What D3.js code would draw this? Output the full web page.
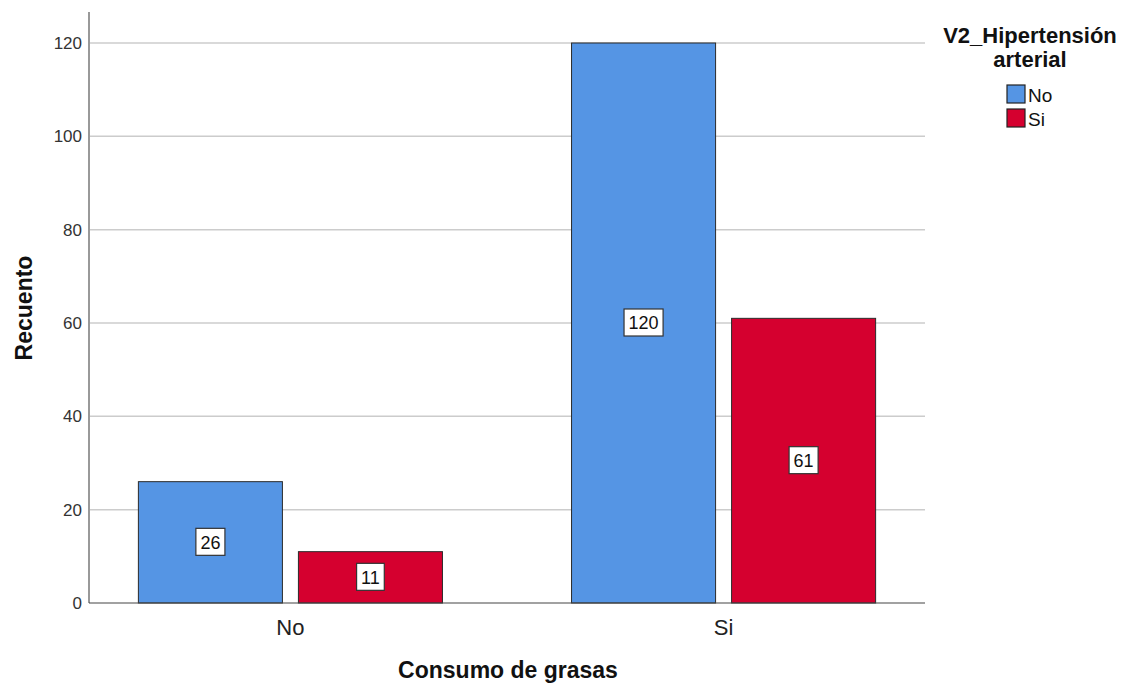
<!DOCTYPE html>
<html lang="es">
<head>
<meta charset="utf-8">
<title>Consumo de grasas</title>
<script src="https://cdn.jsdelivr.net/npm/d3@7/dist/d3.min.js"></script>
<style>
  body { margin: 0; background: #fff; }
  text { font-family: "Liberation Sans", Arial, sans-serif; }
</style>
</head>
<body>
<svg width="1128" height="683" id="mainsvg"></svg>
<script>
  // datos
  const categories = ['No', 'Si'];
  const series = ['No', 'Si'];
  const valuesNo = [26, 120];   // V2_Hipertensión = No
  const valuesSi = [11, 61];    // V2_Hipertensión = Si
  const yTicks = [0, 20, 40, 60, 80, 100, 120];
  const colors = ['#5595e4', '#d5002f'];

  const svg = d3.select('#mainsvg');
  const plotLeft = 89, plotRight = 925, plotTop = 12, plotBottom = 603;
  const fontFam = '"Liberation Sans", Arial, sans-serif';

  const x = d3.scaleBand().domain(categories).range([plotLeft, plotRight])
    .paddingInner(0.298).paddingOuter(0.114);
  const xSub = d3.scaleBand().domain(series).range([0, x.bandwidth()])
    .paddingInner(0.1);
  const y = d3.scaleLinear().domain([0, 120]).range([plotBottom, 43]);

  // rejilla
  svg.append('g')
    .selectAll('line').data(yTicks.slice(1)).join('line')
    .attr('x1', plotLeft).attr('x2', plotRight)
    .attr('y1', d => y(d)).attr('y2', d => y(d))
    .attr('stroke', '#cccccc').attr('stroke-width', 1.5);

  // eje y
  const yAxis = d3.axisLeft(y).tickValues(yTicks).tickSize(0).tickPadding(7);
  const gy = svg.append('g').attr('transform', `translate(${plotLeft},0)`).call(yAxis);
  gy.select('.domain').remove();
  gy.selectAll('text').attr('font-size', 17).attr('fill', '#333')
    .style('font-family', fontFam);
  svg.append('line').attr('x1', plotLeft).attr('x2', plotLeft).attr('y1', plotTop).attr('y2', plotBottom)
    .attr('stroke', '#999').attr('stroke-width', 2);

  // barras
  const rows = [];
  categories.forEach((c, i) => {
    rows.push({ cat: c, ser: 'No', value: valuesNo[i] });
    rows.push({ cat: c, ser: 'Si', value: valuesSi[i] });
  });

  svg.append('g').selectAll('rect').data(rows).join('rect')
    .attr('x', d => x(d.cat) + xSub(d.ser))
    .attr('y', d => y(d.value))
    .attr('width', xSub.bandwidth())
    .attr('height', d => y(0) - y(d.value))
    .attr('fill', d => colors[series.indexOf(d.ser)])
    .attr('stroke', '#2b2b2b').attr('stroke-width', 1);

  // eje x
  svg.append('line').attr('x1', plotLeft).attr('x2', plotRight).attr('y1', plotBottom).attr('y2', plotBottom)
    .attr('stroke', '#444').attr('stroke-width', 1.2);
  const xAxis = d3.axisBottom(x).tickSize(0).tickPadding(16);
  const gx = svg.append('g').attr('transform', `translate(0,${plotBottom})`).call(xAxis);
  gx.select('.domain').remove();
  gx.selectAll('text').attr('font-size', 22).attr('fill', '#222')
    .style('font-family', fontFam);

  // etiquetas de valor
  const lab = svg.append('g').selectAll('g').data(rows).join('g')
    .attr('transform', d => `translate(${x(d.cat) + xSub(d.ser) + xSub.bandwidth() / 2},${y(d.value / 2)})`);
  const box = lab.append('rect')
    .attr('y', -14).attr('height', 27)
    .attr('fill', '#fff').attr('stroke', '#333').attr('stroke-width', 1.2);
  const labText = lab.append('text').text(d => d.value)
    .attr('text-anchor', 'middle').attr('dy', '0.36em')
    .attr('font-size', 18).attr('fill', '#111');
  labText.each(function (d, i) {
    const w = this.getComputedTextLength() + 9;
    d3.select(box.nodes()[i]).attr('x', -w / 2).attr('width', w);
  });

  // títulos de ejes
  svg.append('text').text('Recuento')
    .attr('transform', 'translate(32,308) rotate(-90)')
    .attr('text-anchor', 'middle').attr('font-size', 23).attr('font-weight', 'bold').attr('fill', '#111');
  svg.append('text').text('Consumo de grasas')
    .attr('x', 508).attr('y', 678)
    .attr('text-anchor', 'middle').attr('font-size', 23).attr('font-weight', 'bold').attr('fill', '#111');

  // leyenda
  const leg = svg.append('g');
  leg.append('text').text('V2_Hipertensión').attr('x', 1030).attr('y', 43)
    .attr('text-anchor', 'middle').attr('font-size', 22).attr('font-weight', 'bold').attr('fill', '#111');
  leg.append('text').text('arterial').attr('x', 1030).attr('y', 67)
    .attr('text-anchor', 'middle').attr('font-size', 22).attr('font-weight', 'bold').attr('fill', '#111');
  const items = leg.selectAll('g').data(series).join('g')
    .attr('transform', (d, i) => `translate(1007,${85 + i * 24})`);
  items.append('rect').attr('width', 18).attr('height', 18)
    .attr('fill', (d, i) => colors[i]).attr('stroke', '#222').attr('stroke-width', 1.2);
  items.append('text').text(d => d).attr('x', 21).attr('y', 17)
    .attr('font-size', 19).attr('fill', '#111');
</script>
</body>
</html>
